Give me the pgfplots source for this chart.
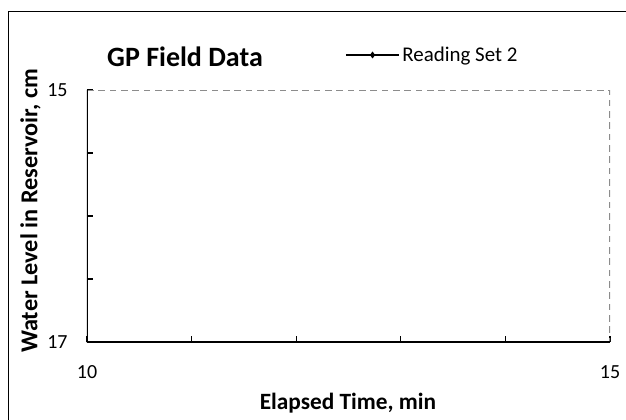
\documentclass[border=0pt]{standalone}
\usepackage{fontspec}
\setmainfont{Carlito}
\usepackage{pgfplots}
\pgfplotsset{compat=1.18}
\definecolor{dashgray}{RGB}{140,140,140}
\begin{document}
\begin{tikzpicture}
\useasboundingbox (0pt,0pt) rectangle (469.5pt,314.25pt);
% chart area frame (extends beyond the right and bottom edges)
\draw[black, line width=1.1pt] (6.375pt,-10pt) -- (6.375pt,305.625pt) -- (480pt,305.625pt);
\begin{axis}[
  at={(65.25pt,57.75pt)}, anchor=south west,
  scale only axis, width=392.25pt, height=189pt,
  xmin=10, xmax=15, ymin=15, ymax=17,
  y dir=reverse,
  axis line style={draw=none},
  xtick={10,11,12,13,14,15}, xticklabels={10,,,,,15},
  ytick={15,15.5,16,16.5,17}, yticklabels={15,,,,17},
  xtick pos=bottom, ytick pos=left,
  tick align=inside,
  major tick length=4.5pt,
  tick style={black, line width=0.9pt},
  ticklabel style={font=\fontsize{15}{18}\selectfont},
  /pgf/number format/assume math mode=true,
  yticklabel style={xshift=-11pt},
  xticklabel style={yshift=-14pt},
  every axis title shift=0pt,
  title={GP Field Data},
  title style={at={(axis description cs:0.1874,1.131)}, anchor=center, font=\bfseries\fontsize{21}{25}\selectfont},
  xlabel={Elapsed Time, min},
  xlabel style={at={(axis description cs:0.499,-0.242)}, anchor=center, font=\bfseries\fontsize{17.5}{20}\selectfont},
  ylabel={Water Level in Reservoir, cm},
  ylabel style={at={(axis description cs:-0.108,0.52)}, anchor=center, rotate=0, font=\bfseries\fontsize{18.2}{21}\selectfont},
  legend style={at={(axis description cs:0.4933,1.139)}, anchor=west, draw=none, fill=none, inner sep=0pt,
    font=\fontsize{15.7}{18}\selectfont},
  legend cell align=left,
  legend image code/.code={\draw[mark repeat=2,mark phase=2,#1] plot coordinates {(0pt,0pt) (19.9pt,0pt) (39.75pt,0pt)};},
]
\addlegendimage{black, line width=1.1pt, mark=diamond*, mark size=2.2pt, mark options={solid, line width=0.5pt}}
\addlegendentry{Reading Set 2}
\draw[dashgray, line width=0.9pt, dash pattern=on 5pt off 3.5pt] (axis description cs:0,1) -- (axis description cs:1,1) -- (axis description cs:1,0);
\draw[black, line width=1.1pt] (axis description cs:0,1) -- (axis description cs:0,0) -- (axis description cs:1,0);
\end{axis}
\end{tikzpicture}
\end{document}
